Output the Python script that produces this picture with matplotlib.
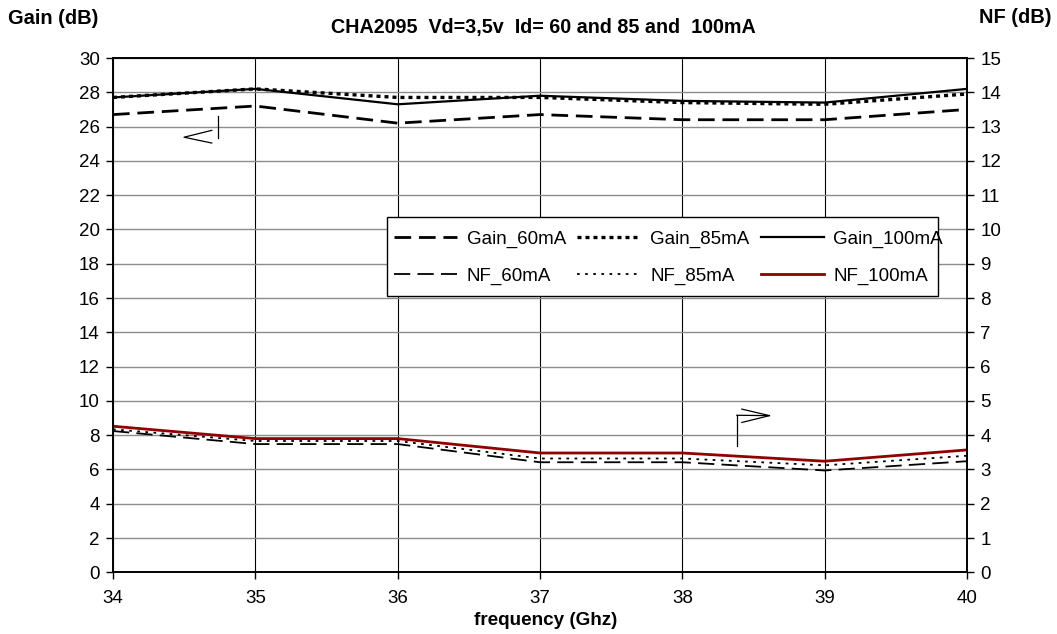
import matplotlib
matplotlib.use("Agg")
import matplotlib.pyplot as plt
from matplotlib.patches import Rectangle

plt.rcParams['font.family'] = ['Liberation Sans', 'DejaVu Sans']

freq = [34, 35, 36, 37, 38, 39, 40]
gain_60 = [26.7, 27.2, 26.2, 26.7, 26.4, 26.4, 27.0]
gain_85 = [27.7, 28.2, 27.7, 27.7, 27.4, 27.3, 27.9]
gain_100 = [27.7, 28.2, 27.3, 27.8, 27.5, 27.4, 28.2]
nf_60 = [4.12, 3.74, 3.74, 3.21, 3.21, 2.97, 3.24]
nf_85 = [4.17, 3.83, 3.83, 3.32, 3.32, 3.12, 3.40]
nf_100 = [4.26, 3.90, 3.90, 3.48, 3.48, 3.24, 3.57]

title = "CHA2095  Vd=3,5v  Id= 60 and 85 and  100mA"

fig = plt.figure(figsize=(10.57, 6.34), dpi=100)
ax = fig.add_axes([0.1069, 0.0973, 0.8080, 0.8112])
ax2 = ax.twinx()

ax.set_xlim(34, 40)
ax.set_ylim(0, 30)
ax2.set_ylim(0, 15)
ax.set_xticks(range(34, 41))
ax.set_yticks(range(0, 31, 2))
ax2.set_yticks(range(0, 16))

for a in (ax, ax2):
    a.tick_params(direction='out', length=5, width=1, labelsize=13.5, color='black', pad=4.5)
    for s in a.spines.values():
        s.set_linewidth(1.2)
        s.set_color('black')
ax.tick_params(axis='x', pad=7.5)

ax.set_axisbelow(True)
ax.yaxis.grid(True, color='#8c8c8c', lw=1.0)
ax.xaxis.grid(True, color='black', lw=0.8)

l1, = ax.plot(freq, gain_60, color='black', lw=2.0, dashes=(6, 2.8), label='Gain_60mA')
l2, = ax.plot(freq, gain_85, color='black', lw=2.4, dashes=(1.2, 1.2), label='Gain_85mA')
l3, = ax.plot(freq, gain_100, color='black', lw=1.6, label='Gain_100mA')
l4, = ax2.plot(freq, nf_60, color='black', lw=1.3, dashes=(9, 4), label='NF_60mA')
l5, = ax2.plot(freq, nf_85, color='black', lw=1.3, dashes=(1.5, 3.0), label='NF_85mA')
l6, = ax2.plot(freq, nf_100, color='#900000', lw=2.0, label='NF_100mA')

# legend box (text slightly overflows the frame, as in the original)
box = Rectangle((0.321, 0.537), 0.645, 0.154, transform=ax2.transAxes,
                facecolor='white', edgecolor='black', lw=1.0, zorder=9)
ax2.add_patch(box)

handles = [l1, l4, l2, l5, l3, l6]
leg = ax2.legend(handles=handles, ncol=3, loc='upper left',
                 bbox_to_anchor=(0.3115, 0.6937), fontsize=13.5,
                 frameon=False, handlelength=3.36, handletextpad=0.53,
                 columnspacing=0.59, borderpad=0.8, labelspacing=1.05,
                 borderaxespad=0)
leg.set_zorder(10)

# arrows indicating axis of each group
arr_kw = dict(color='black', lw=0.9)
ax.plot([34.694, 34.499, 34.694], [25.78, 25.38, 25.04], **arr_kw)
ax.plot([34.74, 34.74], [26.59, 25.31], **arr_kw)
ax2.plot([38.383, 38.383], [3.69, 4.58], **arr_kw)
ax2.plot([38.383, 38.612], [4.58, 4.57], **arr_kw)
ax2.plot([38.418, 38.612, 38.418], [4.76, 4.57, 4.37], **arr_kw)

fig.text(0.514, 0.956, title, ha='center', va='center', fontsize=14.2, fontweight='bold')
fig.text(0.0076, 0.971, "Gain (dB)", ha='left', va='center', fontsize=14.4, fontweight='bold')
fig.text(0.995, 0.973, "NF (dB)", ha='right', va='center', fontsize=14.4, fontweight='bold')
fig.text(0.516, 0.022, "frequency (Ghz)", ha='center', va='center', fontsize=13.6, fontweight='bold')

fig.savefig("out.png", dpi=100)
